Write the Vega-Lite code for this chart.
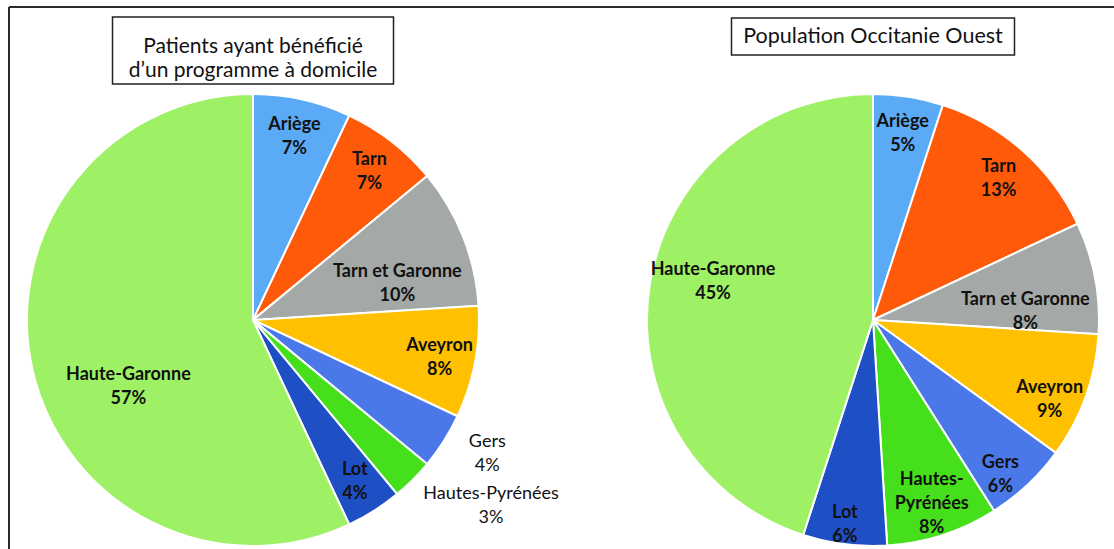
{
  "$schema": "https://vega.github.io/schema/vega-lite/v6.json",
  "width": 1105,
  "height": 542,
  "autosize": {"type": "none"},
  "padding": {"left": 9, "top": 7, "right": 0, "bottom": 0},
  "background": "white",
  "config": {
    "view": {"stroke": "#2a2a2a", "strokeWidth": 2, "strokeDash": [1105, 1647, 542, 0]},
    "font": "Lato"
  },
  "datasets": {
    "slices": [
      {"chart": "Patients", "region": "Ariège", "pct": 7, "order": 1},
      {"chart": "Patients", "region": "Tarn", "pct": 7, "order": 2},
      {"chart": "Patients", "region": "Tarn et Garonne", "pct": 10, "order": 3},
      {"chart": "Patients", "region": "Aveyron", "pct": 8, "order": 4},
      {"chart": "Patients", "region": "Gers", "pct": 4, "order": 5},
      {"chart": "Patients", "region": "Hautes-Pyrénées", "pct": 3, "order": 6},
      {"chart": "Patients", "region": "Lot", "pct": 4, "order": 7},
      {"chart": "Patients", "region": "Haute-Garonne", "pct": 57, "order": 8},
      {"chart": "Population", "region": "Ariège", "pct": 5, "order": 1},
      {"chart": "Population", "region": "Tarn", "pct": 13, "order": 2},
      {"chart": "Population", "region": "Tarn et Garonne", "pct": 8, "order": 3},
      {"chart": "Population", "region": "Aveyron", "pct": 9, "order": 4},
      {"chart": "Population", "region": "Gers", "pct": 6, "order": 5},
      {"chart": "Population", "region": "Hautes-Pyrénées", "pct": 8, "order": 6},
      {"chart": "Population", "region": "Lot", "pct": 6, "order": 7},
      {"chart": "Population", "region": "Haute-Garonne", "pct": 45, "order": 8}
    ],
    "titles": [
      {"chart": "Patients", "title": "Patients ayant bénéficié\nd’un programme à domicile"},
      {"chart": "Population", "title": "Population Occitanie Ouest"}
    ]
  },
  "data": {"name": "slices"},
  "transform": [
    {"stack": "pct", "groupby": ["chart"], "sort": [{"field": "order"}], "as": ["v0", "v1"]},
    {"calculate": "(datum.v0 + datum.v1) / 2", "as": "mid"},
    {"calculate": "datum.chart == 'Population' && datum.region == 'Hautes-Pyrénées' ? 'Hautes-\\nPyrénées\\n' + datum.pct + '%' : datum.region + '\\n' + datum.pct + '%'", "as": "label"}
  ],
  "encoding": {
    "x": {"field": "chart", "type": "nominal", "scale": {"type": "point", "domain": ["Patients", "Population"], "range": [244, 864], "padding": 0}, "axis": null}
  },
  "layer": [
    {
      "mark": {"type": "arc", "radius": 226, "stroke": "white", "strokeWidth": 2},
      "encoding": {
        "y": {"datum": "pie", "type": "nominal", "scale": {"type": "point", "domain": ["title", "pie"], "range": [43.5, 313], "padding": 0}, "axis": null},
        "theta": {"field": "v0", "type": "quantitative", "stack": null, "scale": {"domain": [0, 100], "range": [0, 6.283185307179586], "zero": true, "nice": false}},
        "theta2": {"field": "v1"},
        "color": {"field": "region", "type": "nominal", "legend": null,
          "scale": {"domain": ["Ariège", "Tarn", "Tarn et Garonne", "Aveyron", "Gers", "Hautes-Pyrénées", "Lot", "Haute-Garonne"],
                    "range": ["#5aaaf5", "#ff5a0a", "#a4a8a6", "#ffc000", "#4a78e8", "#46df1c", "#1f4fc4", "#9ef064"]}}
      }
    },
    {
      "transform": [{"filter": "(datum.region == 'Ariège' || datum.region == 'Tarn') || (datum.chart == 'Patients' && (datum.region == 'Aveyron' || datum.region == 'Lot'))"}],
      "mark": {"type": "text", "radius": 190, "dy": -10, "fontWeight": "bold", "fontSize": 18, "lineBreak": "\n", "lineHeight": 24, "color": "#111", "align": "center", "baseline": "middle"},
      "encoding": {
        "y": {"datum": "pie", "type": "nominal"},
        "theta": {"field": "mid", "type": "quantitative", "stack": null},
        "text": {"field": "label", "type": "nominal"}
      }
    },
    {
      "transform": [{"filter": "datum.chart == 'Population' && (datum.region == 'Aveyron' || datum.region == 'Gers' || datum.region == 'Lot')"}],
      "mark": {"type": "text", "radius": 192, "dx": -4, "dy": 3, "fontWeight": "bold", "fontSize": 18, "lineBreak": "\n", "lineHeight": 24, "color": "#111", "align": "center", "baseline": "middle"},
      "encoding": {
        "y": {"datum": "pie", "type": "nominal"},
        "theta": {"field": "mid", "type": "quantitative", "stack": null},
        "text": {"field": "label", "type": "nominal"}
      }
    },
    {
      "transform": [{"filter": "datum.chart == 'Population' && datum.region == 'Hautes-Pyrénées'"}],
      "mark": {"type": "text", "radius": 190, "dy": -21, "fontWeight": "bold", "fontSize": 18, "lineBreak": "\n", "lineHeight": 24, "color": "#111", "align": "center", "baseline": "middle"},
      "encoding": {
        "y": {"datum": "pie", "type": "nominal"},
        "theta": {"field": "mid", "type": "quantitative", "stack": null},
        "text": {"field": "label", "type": "nominal"}
      }
    },
    {
      "transform": [{"filter": "datum.region == 'Tarn et Garonne'"}],
      "mark": {"type": "text", "radius": 152, "dx": 3, "dy": 8, "fontWeight": "bold", "fontSize": 18, "lineBreak": "\n", "lineHeight": 24, "color": "#111", "align": "center", "baseline": "middle"},
      "encoding": {
        "y": {"datum": "pie", "type": "nominal"},
        "theta": {"field": "mid", "type": "quantitative", "stack": null},
        "text": {"field": "label", "type": "nominal"}
      }
    },
    {
      "transform": [{"filter": "datum.region == 'Haute-Garonne' && datum.chart == 'Patients'"}],
      "mark": {"type": "text", "radius": 141, "dx": 13, "dy": 24, "fontWeight": "bold", "fontSize": 18, "lineBreak": "\n", "lineHeight": 24, "color": "#111", "align": "center", "baseline": "middle"},
      "encoding": {
        "y": {"datum": "pie", "type": "nominal"},
        "theta": {"field": "mid", "type": "quantitative", "stack": null},
        "text": {"field": "label", "type": "nominal"}
      }
    },
    {
      "transform": [{"filter": "datum.region == 'Haute-Garonne' && datum.chart == 'Population'"}],
      "mark": {"type": "text", "radius": 165, "dx": 3, "dy": -24, "fontWeight": "bold", "fontSize": 18, "lineBreak": "\n", "lineHeight": 24, "color": "#111", "align": "center", "baseline": "middle"},
      "encoding": {
        "y": {"datum": "pie", "type": "nominal"},
        "theta": {"field": "mid", "type": "quantitative", "stack": null},
        "text": {"field": "label", "type": "nominal"}
      }
    },
    {
      "transform": [{"filter": "datum.region == 'Gers' && datum.chart == 'Patients'"}],
      "mark": {"type": "text", "radius": 268, "dx": 8, "dy": -22, "fontSize": 18, "lineBreak": "\n", "lineHeight": 24, "color": "#111", "align": "center", "baseline": "middle"},
      "encoding": {
        "y": {"datum": "pie", "type": "nominal"},
        "theta": {"field": "mid", "type": "quantitative", "stack": null},
        "text": {"field": "label", "type": "nominal"}
      }
    },
    {
      "transform": [{"filter": "datum.region == 'Hautes-Pyrénées' && datum.chart == 'Patients'"}],
      "mark": {"type": "text", "radius": 290, "dx": 33, "dy": -31, "fontSize": 18, "lineBreak": "\n", "lineHeight": 24, "color": "#111", "align": "center", "baseline": "middle"},
      "encoding": {
        "y": {"datum": "pie", "type": "nominal"},
        "theta": {"field": "mid", "type": "quantitative", "stack": null},
        "text": {"field": "label", "type": "nominal"}
      }
    },
    {
      "data": {"name": "titles"},
      "transform": [{"filter": "datum.chart == 'Patients'"}],
      "mark": {"type": "rect", "width": 281, "height": 67, "fill": "white", "stroke": "#222", "strokeWidth": 1.5},
      "encoding": {"y": {"datum": "title", "type": "nominal"}}
    },
    {
      "data": {"name": "titles"},
      "transform": [{"filter": "datum.chart == 'Population'"}],
      "mark": {"type": "rect", "width": 283, "height": 37, "yOffset": -14, "fill": "white", "stroke": "#222", "strokeWidth": 1.5},
      "encoding": {"y": {"datum": "title", "type": "nominal"}}
    },
    {
      "data": {"name": "titles"},
      "transform": [{"filter": "datum.chart == 'Patients'"}],
      "mark": {"type": "text", "fontSize": 21, "dy": -4, "lineBreak": "\n", "lineHeight": 24, "color": "#111", "align": "center", "baseline": "middle"},
      "encoding": {"y": {"datum": "title", "type": "nominal"}, "text": {"field": "title", "type": "nominal"}}
    },
    {
      "data": {"name": "titles"},
      "transform": [{"filter": "datum.chart == 'Population'"}],
      "mark": {"type": "text", "fontSize": 21.5, "dy": -14, "color": "#111", "align": "center", "baseline": "middle"},
      "encoding": {"y": {"datum": "title", "type": "nominal"}, "text": {"field": "title", "type": "nominal"}}
    }
  ]
}
